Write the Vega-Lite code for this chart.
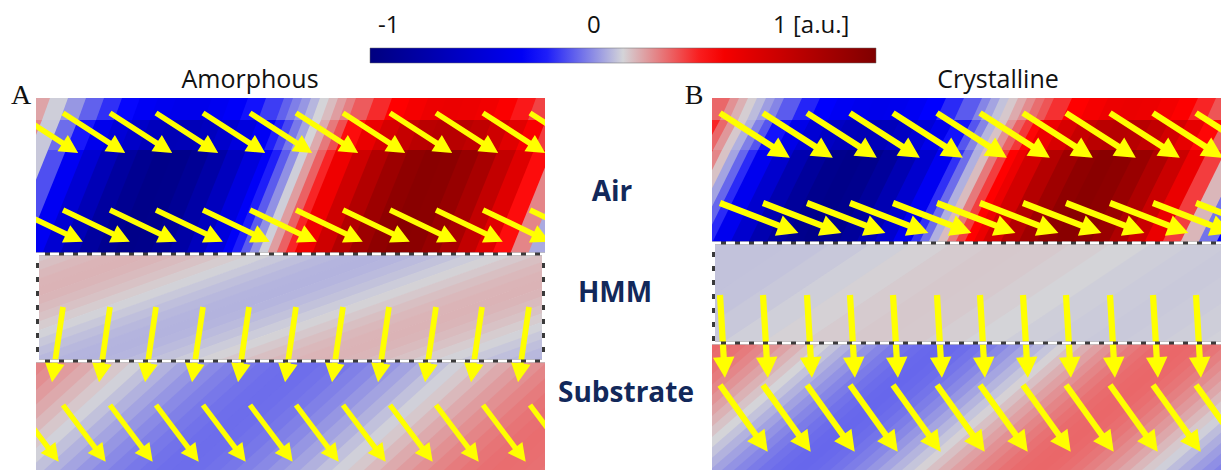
{
"$schema":"https://vega.github.io/schema/vega-lite/v6.json",
"width":1221,"height":470,"autosize":{"type":"none"},"padding":0,"background":"white",
"config":{"view":{"stroke":null}},
"datasets":{
"sa":[
{"g":"L1","y":254,"x":-12,"x2":8,"v":-0.02},{"g":"L1","y":150,"x":30,"x2":50,"v":-0.02},
{"g":"L2","y":254,"x":6,"x2":26,"v":-0.22},{"g":"L2","y":150,"x":48,"x2":68,"v":-0.22},
{"g":"L3","y":254,"x":24,"x2":44,"v":-0.41},{"g":"L3","y":150,"x":66,"x2":86,"v":-0.41},
{"g":"L4","y":254,"x":42,"x2":62,"v":-0.58},{"g":"L4","y":150,"x":84,"x2":104,"v":-0.58},
{"g":"L5","y":254,"x":60,"x2":80,"v":-0.72},{"g":"L5","y":150,"x":102,"x2":122,"v":-0.72},
{"g":"L6","y":254,"x":78,"x2":98,"v":-0.84},{"g":"L6","y":150,"x":120,"x2":140,"v":-0.84},
{"g":"L7","y":254,"x":96,"x2":116,"v":-0.91},{"g":"L7","y":150,"x":138,"x2":158,"v":-0.91},
{"g":"L8","y":254,"x":114,"x2":134,"v":-0.95},{"g":"L8","y":150,"x":156,"x2":176,"v":-0.95},
{"g":"L9","y":254,"x":132,"x2":152,"v":-0.94},{"g":"L9","y":150,"x":174,"x2":194,"v":-0.94},
{"g":"L10","y":254,"x":150,"x2":170,"v":-0.89},{"g":"L10","y":150,"x":192,"x2":212,"v":-0.89},
{"g":"L11","y":254,"x":168,"x2":188,"v":-0.8},{"g":"L11","y":150,"x":210,"x2":230,"v":-0.8},
{"g":"L12","y":254,"x":186,"x2":206,"v":-0.68},{"g":"L12","y":150,"x":228,"x2":248,"v":-0.68},
{"g":"L13","y":254,"x":204,"x2":224,"v":-0.53},{"g":"L13","y":150,"x":246,"x2":266,"v":-0.53},
{"g":"Lf0","y":254,"x":222,"x2":233,"v":-0.39},{"g":"Lf0","y":150,"x":264,"x2":275,"v":-0.39},
{"g":"Lf1","y":254,"x":231,"x2":242,"v":-0.3},{"g":"Lf1","y":150,"x":273,"x2":284,"v":-0.3},
{"g":"Lf2","y":254,"x":240,"x2":251,"v":-0.2},{"g":"Lf2","y":150,"x":282,"x2":293,"v":-0.2},
{"g":"Lf3","y":254,"x":249,"x2":260,"v":-0.11},{"g":"Lf3","y":150,"x":291,"x2":302,"v":-0.11},
{"g":"Lf4","y":254,"x":258,"x2":269,"v":-0.01},{"g":"Lf4","y":150,"x":300,"x2":311,"v":-0.01},
{"g":"Lf5","y":254,"x":267,"x2":278,"v":0.09},{"g":"Lf5","y":150,"x":309,"x2":320,"v":0.09},
{"g":"Lf6","y":254,"x":276,"x2":287,"v":0.19},{"g":"Lf6","y":150,"x":318,"x2":329,"v":0.19},
{"g":"Lf7","y":254,"x":285,"x2":296,"v":0.29},{"g":"Lf7","y":150,"x":327,"x2":338,"v":0.29},
{"g":"L18","y":254,"x":294,"x2":314,"v":0.43},{"g":"L18","y":150,"x":336,"x2":356,"v":0.43},
{"g":"L19","y":254,"x":312,"x2":332,"v":0.6},{"g":"L19","y":150,"x":354,"x2":374,"v":0.6},
{"g":"L20","y":254,"x":330,"x2":350,"v":0.74},{"g":"L20","y":150,"x":372,"x2":392,"v":0.74},
{"g":"L21","y":254,"x":348,"x2":368,"v":0.85},{"g":"L21","y":150,"x":390,"x2":410,"v":0.85},
{"g":"L22","y":254,"x":366,"x2":386,"v":0.92},{"g":"L22","y":150,"x":408,"x2":428,"v":0.92},
{"g":"L23","y":254,"x":384,"x2":404,"v":0.95},{"g":"L23","y":150,"x":426,"x2":446,"v":0.95},
{"g":"L24","y":254,"x":402,"x2":422,"v":0.94},{"g":"L24","y":150,"x":444,"x2":464,"v":0.94},
{"g":"L25","y":254,"x":420,"x2":440,"v":0.88},{"g":"L25","y":150,"x":462,"x2":482,"v":0.88},
{"g":"L26","y":254,"x":438,"x2":458,"v":0.79},{"g":"L26","y":150,"x":480,"x2":500,"v":0.79},
{"g":"L27","y":254,"x":456,"x2":476,"v":0.66},{"g":"L27","y":150,"x":498,"x2":518,"v":0.66},
{"g":"L28","y":254,"x":474,"x2":494,"v":0.51},{"g":"L28","y":150,"x":516,"x2":536,"v":0.51},
{"g":"L29","y":254,"x":492,"x2":512,"v":0.33},{"g":"L29","y":150,"x":534,"x2":554,"v":0.33},
{"g":"L30","y":254,"x":510,"x2":530,"v":0.13},{"g":"L30","y":150,"x":552,"x2":572,"v":0.13},
{"g":"L31","y":254,"x":528,"x2":548,"v":-0.07},{"g":"L31","y":150,"x":570,"x2":590,"v":-0.07},
{"g":"M0","y":150,"x":12,"x2":32,"v":0.13},{"g":"M0","y":120,"x":24,"x2":44,"v":0.13},
{"g":"M1","y":150,"x":30,"x2":50,"v":-0.02},{"g":"M1","y":120,"x":42,"x2":62,"v":-0.02},
{"g":"M2","y":150,"x":48,"x2":68,"v":-0.17},{"g":"M2","y":120,"x":60,"x2":80,"v":-0.17},
{"g":"M3","y":150,"x":66,"x2":86,"v":-0.31},{"g":"M3","y":120,"x":78,"x2":98,"v":-0.31},
{"g":"M4","y":150,"x":84,"x2":104,"v":-0.44},{"g":"M4","y":120,"x":96,"x2":116,"v":-0.44},
{"g":"M5","y":150,"x":102,"x2":122,"v":-0.55},{"g":"M5","y":120,"x":114,"x2":134,"v":-0.55},
{"g":"M6","y":150,"x":120,"x2":140,"v":-0.63},{"g":"M6","y":120,"x":132,"x2":152,"v":-0.63},
{"g":"M7","y":150,"x":138,"x2":158,"v":-0.69},{"g":"M7","y":120,"x":150,"x2":170,"v":-0.69},
{"g":"M8","y":150,"x":156,"x2":176,"v":-0.72},{"g":"M8","y":120,"x":168,"x2":188,"v":-0.72},
{"g":"M9","y":150,"x":174,"x2":194,"v":-0.71},{"g":"M9","y":120,"x":186,"x2":206,"v":-0.71},
{"g":"M10","y":150,"x":192,"x2":212,"v":-0.68},{"g":"M10","y":120,"x":204,"x2":224,"v":-0.68},
{"g":"M11","y":150,"x":210,"x2":230,"v":-0.61},{"g":"M11","y":120,"x":222,"x2":242,"v":-0.61},
{"g":"M12","y":150,"x":228,"x2":248,"v":-0.52},{"g":"M12","y":120,"x":240,"x2":260,"v":-0.52},
{"g":"M13","y":150,"x":246,"x2":266,"v":-0.4},{"g":"M13","y":120,"x":258,"x2":278,"v":-0.4},
{"g":"Mf0","y":150,"x":264,"x2":275,"v":-0.3},{"g":"Mf0","y":120,"x":276,"x2":287,"v":-0.3},
{"g":"Mf1","y":150,"x":273,"x2":284,"v":-0.23},{"g":"Mf1","y":120,"x":285,"x2":296,"v":-0.23},
{"g":"Mf2","y":150,"x":282,"x2":293,"v":-0.15},{"g":"Mf2","y":120,"x":294,"x2":305,"v":-0.15},
{"g":"Mf3","y":150,"x":291,"x2":302,"v":-0.08},{"g":"Mf3","y":120,"x":303,"x2":314,"v":-0.08},
{"g":"Mf4","y":150,"x":300,"x2":311,"v":0},{"g":"Mf4","y":120,"x":312,"x2":323,"v":0},
{"g":"Mf5","y":150,"x":309,"x2":320,"v":0.07},{"g":"Mf5","y":120,"x":321,"x2":332,"v":0.07},
{"g":"Mf6","y":150,"x":318,"x2":329,"v":0.15},{"g":"Mf6","y":120,"x":330,"x2":341,"v":0.15},
{"g":"Mf7","y":150,"x":327,"x2":338,"v":0.22},{"g":"Mf7","y":120,"x":339,"x2":350,"v":0.22},
{"g":"M18","y":150,"x":336,"x2":356,"v":0.33},{"g":"M18","y":120,"x":348,"x2":368,"v":0.33},
{"g":"M19","y":150,"x":354,"x2":374,"v":0.45},{"g":"M19","y":120,"x":366,"x2":386,"v":0.45},
{"g":"M20","y":150,"x":372,"x2":392,"v":0.56},{"g":"M20","y":120,"x":384,"x2":404,"v":0.56},
{"g":"M21","y":150,"x":390,"x2":410,"v":0.64},{"g":"M21","y":120,"x":402,"x2":422,"v":0.64},
{"g":"M22","y":150,"x":408,"x2":428,"v":0.7},{"g":"M22","y":120,"x":420,"x2":440,"v":0.7},
{"g":"M23","y":150,"x":426,"x2":446,"v":0.72},{"g":"M23","y":120,"x":438,"x2":458,"v":0.72},
{"g":"M24","y":150,"x":444,"x2":464,"v":0.71},{"g":"M24","y":120,"x":456,"x2":476,"v":0.71},
{"g":"M25","y":150,"x":462,"x2":482,"v":0.67},{"g":"M25","y":120,"x":474,"x2":494,"v":0.67},
{"g":"M26","y":150,"x":480,"x2":500,"v":0.6},{"g":"M26","y":120,"x":492,"x2":512,"v":0.6},
{"g":"M27","y":150,"x":498,"x2":518,"v":0.5},{"g":"M27","y":120,"x":510,"x2":530,"v":0.5},
{"g":"M28","y":150,"x":516,"x2":536,"v":0.38},{"g":"M28","y":120,"x":528,"x2":548,"v":0.38},
{"g":"M29","y":150,"x":534,"x2":554,"v":0.25},{"g":"M29","y":120,"x":546,"x2":566,"v":0.25},
{"g":"T0","y":120,"x":24,"x2":44,"v":0.08},{"g":"T0","y":98,"x":32,"x2":52,"v":0.08},
{"g":"T1","y":120,"x":42,"x2":62,"v":-0.01},{"g":"T1","y":98,"x":50,"x2":70,"v":-0.01},
{"g":"T2","y":120,"x":60,"x2":80,"v":-0.1},{"g":"T2","y":98,"x":68,"x2":88,"v":-0.1},
{"g":"T3","y":120,"x":78,"x2":98,"v":-0.19},{"g":"T3","y":98,"x":86,"x2":106,"v":-0.19},
{"g":"T4","y":120,"x":96,"x2":116,"v":-0.27},{"g":"T4","y":98,"x":104,"x2":124,"v":-0.27},
{"g":"T5","y":120,"x":114,"x2":134,"v":-0.34},{"g":"T5","y":98,"x":122,"x2":142,"v":-0.34},
{"g":"T6","y":120,"x":132,"x2":152,"v":-0.4},{"g":"T6","y":98,"x":140,"x2":160,"v":-0.4},
{"g":"T7","y":120,"x":150,"x2":170,"v":-0.43},{"g":"T7","y":98,"x":158,"x2":178,"v":-0.43},
{"g":"T8","y":120,"x":168,"x2":188,"v":-0.45},{"g":"T8","y":98,"x":176,"x2":196,"v":-0.45},
{"g":"T9","y":120,"x":186,"x2":206,"v":-0.45},{"g":"T9","y":98,"x":194,"x2":214,"v":-0.45},
{"g":"T10","y":120,"x":204,"x2":224,"v":-0.42},{"g":"T10","y":98,"x":212,"x2":232,"v":-0.42},
{"g":"T11","y":120,"x":222,"x2":242,"v":-0.38},{"g":"T11","y":98,"x":230,"x2":250,"v":-0.38},
{"g":"T12","y":120,"x":240,"x2":260,"v":-0.32},{"g":"T12","y":98,"x":248,"x2":268,"v":-0.32},
{"g":"T13","y":120,"x":258,"x2":278,"v":-0.25},{"g":"T13","y":98,"x":266,"x2":286,"v":-0.25},
{"g":"Tf0","y":120,"x":276,"x2":287,"v":-0.19},{"g":"Tf0","y":98,"x":284,"x2":295,"v":-0.19},
{"g":"Tf1","y":120,"x":285,"x2":296,"v":-0.14},{"g":"Tf1","y":98,"x":293,"x2":304,"v":-0.14},
{"g":"Tf2","y":120,"x":294,"x2":305,"v":-0.1},{"g":"Tf2","y":98,"x":302,"x2":313,"v":-0.1},
{"g":"Tf3","y":120,"x":303,"x2":314,"v":-0.05},{"g":"Tf3","y":98,"x":311,"x2":322,"v":-0.05},
{"g":"Tf4","y":120,"x":312,"x2":323,"v":0},{"g":"Tf4","y":98,"x":320,"x2":331,"v":0},
{"g":"Tf5","y":120,"x":321,"x2":332,"v":0.04},{"g":"Tf5","y":98,"x":329,"x2":340,"v":0.04},
{"g":"Tf6","y":120,"x":330,"x2":341,"v":0.09},{"g":"Tf6","y":98,"x":338,"x2":349,"v":0.09},
{"g":"Tf7","y":120,"x":339,"x2":350,"v":0.14},{"g":"Tf7","y":98,"x":347,"x2":358,"v":0.14},
{"g":"T18","y":120,"x":348,"x2":368,"v":0.2},{"g":"T18","y":98,"x":356,"x2":376,"v":0.2},
{"g":"T19","y":120,"x":366,"x2":386,"v":0.28},{"g":"T19","y":98,"x":374,"x2":394,"v":0.28},
{"g":"T20","y":120,"x":384,"x2":404,"v":0.35},{"g":"T20","y":98,"x":392,"x2":412,"v":0.35},
{"g":"T21","y":120,"x":402,"x2":422,"v":0.4},{"g":"T21","y":98,"x":410,"x2":430,"v":0.4},
{"g":"T22","y":120,"x":420,"x2":440,"v":0.44},{"g":"T22","y":98,"x":428,"x2":448,"v":0.44},
{"g":"T23","y":120,"x":438,"x2":458,"v":0.45},{"g":"T23","y":98,"x":446,"x2":466,"v":0.45},
{"g":"T24","y":120,"x":456,"x2":476,"v":0.44},{"g":"T24","y":98,"x":464,"x2":484,"v":0.44},
{"g":"T25","y":120,"x":474,"x2":494,"v":0.42},{"g":"T25","y":98,"x":482,"x2":502,"v":0.42},
{"g":"T26","y":120,"x":492,"x2":512,"v":0.37},{"g":"T26","y":98,"x":500,"x2":520,"v":0.37},
{"g":"T27","y":120,"x":510,"x2":530,"v":0.31},{"g":"T27","y":98,"x":518,"x2":538,"v":0.31},
{"g":"T28","y":120,"x":528,"x2":548,"v":0.24},{"g":"T28","y":98,"x":536,"x2":556,"v":0.24},
{"g":"H0","y":361,"x":-264,"x2":-238,"v":0.019},{"g":"H0","y":254,"x":36,"x2":62,"v":0.019},
{"g":"H1","y":361,"x":-240,"x2":-214,"v":0.035},{"g":"H1","y":254,"x":60,"x2":86,"v":0.035},
{"g":"H2","y":361,"x":-216,"x2":-190,"v":0.047},{"g":"H2","y":254,"x":84,"x2":110,"v":0.047},
{"g":"H3","y":361,"x":-192,"x2":-166,"v":0.053},{"g":"H3","y":254,"x":108,"x2":134,"v":0.053},
{"g":"H4","y":361,"x":-168,"x2":-142,"v":0.055},{"g":"H4","y":254,"x":132,"x2":158,"v":0.055},
{"g":"H5","y":361,"x":-144,"x2":-118,"v":0.052},{"g":"H5","y":254,"x":156,"x2":182,"v":0.052},
{"g":"H6","y":361,"x":-120,"x2":-94,"v":0.042},{"g":"H6","y":254,"x":180,"x2":206,"v":0.042},
{"g":"H7","y":361,"x":-96,"x2":-70,"v":0.03},{"g":"H7","y":254,"x":204,"x2":230,"v":0.03},
{"g":"H8","y":361,"x":-72,"x2":-46,"v":0.014},{"g":"H8","y":254,"x":228,"x2":254,"v":0.014},
{"g":"H9","y":361,"x":-48,"x2":-22,"v":-0.003},{"g":"H9","y":254,"x":252,"x2":278,"v":-0.003},
{"g":"H10","y":361,"x":-24,"x2":2,"v":-0.019},{"g":"H10","y":254,"x":276,"x2":302,"v":-0.019},
{"g":"H11","y":361,"x":0,"x2":26,"v":-0.035},{"g":"H11","y":254,"x":300,"x2":326,"v":-0.035},
{"g":"H12","y":361,"x":24,"x2":50,"v":-0.047},{"g":"H12","y":254,"x":324,"x2":350,"v":-0.047},
{"g":"H13","y":361,"x":48,"x2":74,"v":-0.053},{"g":"H13","y":254,"x":348,"x2":374,"v":-0.053},
{"g":"H14","y":361,"x":72,"x2":98,"v":-0.055},{"g":"H14","y":254,"x":372,"x2":398,"v":-0.055},
{"g":"H15","y":361,"x":96,"x2":122,"v":-0.052},{"g":"H15","y":254,"x":396,"x2":422,"v":-0.052},
{"g":"H16","y":361,"x":120,"x2":146,"v":-0.042},{"g":"H16","y":254,"x":420,"x2":446,"v":-0.042},
{"g":"H17","y":361,"x":144,"x2":170,"v":-0.03},{"g":"H17","y":254,"x":444,"x2":470,"v":-0.03},
{"g":"H18","y":361,"x":168,"x2":194,"v":-0.014},{"g":"H18","y":254,"x":468,"x2":494,"v":-0.014},
{"g":"H19","y":361,"x":192,"x2":218,"v":0.003},{"g":"H19","y":254,"x":492,"x2":518,"v":0.003},
{"g":"H20","y":361,"x":216,"x2":242,"v":0.019},{"g":"H20","y":254,"x":516,"x2":542,"v":0.019},
{"g":"H21","y":361,"x":240,"x2":266,"v":0.035},{"g":"H21","y":254,"x":540,"x2":566,"v":0.035},
{"g":"H22","y":361,"x":264,"x2":290,"v":0.047},{"g":"H22","y":254,"x":564,"x2":590,"v":0.047},
{"g":"H23","y":361,"x":288,"x2":314,"v":0.053},{"g":"H23","y":254,"x":588,"x2":614,"v":0.053},
{"g":"H24","y":361,"x":312,"x2":338,"v":0.055},{"g":"H24","y":254,"x":612,"x2":638,"v":0.055},
{"g":"H25","y":361,"x":336,"x2":362,"v":0.052},{"g":"H25","y":254,"x":636,"x2":662,"v":0.052},
{"g":"H26","y":361,"x":360,"x2":386,"v":0.042},{"g":"H26","y":254,"x":660,"x2":686,"v":0.042},
{"g":"H27","y":361,"x":384,"x2":410,"v":0.03},{"g":"H27","y":254,"x":684,"x2":710,"v":0.03},
{"g":"H28","y":361,"x":408,"x2":434,"v":0.014},{"g":"H28","y":254,"x":708,"x2":734,"v":0.014},
{"g":"H29","y":361,"x":432,"x2":458,"v":-0.003},{"g":"H29","y":254,"x":732,"x2":758,"v":-0.003},
{"g":"H30","y":361,"x":456,"x2":482,"v":-0.019},{"g":"H30","y":254,"x":756,"x2":782,"v":-0.019},
{"g":"H31","y":361,"x":480,"x2":506,"v":-0.035},{"g":"H31","y":254,"x":780,"x2":806,"v":-0.035},
{"g":"H32","y":361,"x":504,"x2":530,"v":-0.047},{"g":"H32","y":254,"x":804,"x2":830,"v":-0.047},
{"g":"H33","y":361,"x":528,"x2":554,"v":-0.053},{"g":"H33","y":254,"x":828,"x2":854,"v":-0.053},
{"g":"S0","y":470,"x":-84,"x2":-66,"v":0.132},{"g":"S0","y":361,"x":36,"x2":54,"v":0.132},
{"g":"S1","y":470,"x":-68,"x2":-50,"v":0.115},{"g":"S1","y":361,"x":52,"x2":70,"v":0.115},
{"g":"S2","y":470,"x":-52,"x2":-34,"v":0.094},{"g":"S2","y":361,"x":68,"x2":86,"v":0.094},
{"g":"S3","y":470,"x":-36,"x2":-18,"v":0.071},{"g":"S3","y":361,"x":84,"x2":102,"v":0.071},
{"g":"S4","y":470,"x":-20,"x2":-2,"v":0.047},{"g":"S4","y":361,"x":100,"x2":118,"v":0.047},
{"g":"S5","y":470,"x":-4,"x2":14,"v":0.021},{"g":"S5","y":361,"x":116,"x2":134,"v":0.021},
{"g":"S6","y":470,"x":12,"x2":30,"v":-0.005},{"g":"S6","y":361,"x":132,"x2":150,"v":-0.005},
{"g":"S7","y":470,"x":28,"x2":46,"v":-0.031},{"g":"S7","y":361,"x":148,"x2":166,"v":-0.031},
{"g":"S8","y":470,"x":44,"x2":62,"v":-0.056},{"g":"S8","y":361,"x":164,"x2":182,"v":-0.056},
{"g":"S9","y":470,"x":60,"x2":78,"v":-0.08},{"g":"S9","y":361,"x":180,"x2":198,"v":-0.08},
{"g":"S10","y":470,"x":76,"x2":94,"v":-0.102},{"g":"S10","y":361,"x":196,"x2":214,"v":-0.102},
{"g":"S11","y":470,"x":92,"x2":110,"v":-0.122},{"g":"S11","y":361,"x":212,"x2":230,"v":-0.122},
{"g":"S12","y":470,"x":108,"x2":126,"v":-0.138},{"g":"S12","y":361,"x":228,"x2":246,"v":-0.138},
{"g":"S13","y":470,"x":124,"x2":142,"v":-0.152},{"g":"S13","y":361,"x":244,"x2":262,"v":-0.152},
{"g":"S14","y":470,"x":140,"x2":158,"v":-0.162},{"g":"S14","y":361,"x":260,"x2":278,"v":-0.162},
{"g":"S15","y":470,"x":156,"x2":174,"v":-0.168},{"g":"S15","y":361,"x":276,"x2":294,"v":-0.168},
{"g":"S16","y":470,"x":172,"x2":190,"v":-0.17},{"g":"S16","y":361,"x":292,"x2":310,"v":-0.17},
{"g":"S17","y":470,"x":188,"x2":206,"v":-0.168},{"g":"S17","y":361,"x":308,"x2":326,"v":-0.168},
{"g":"S18","y":470,"x":204,"x2":222,"v":-0.162},{"g":"S18","y":361,"x":324,"x2":342,"v":-0.162},
{"g":"S19","y":470,"x":220,"x2":238,"v":-0.153},{"g":"S19","y":361,"x":340,"x2":358,"v":-0.153},
{"g":"S20","y":470,"x":236,"x2":254,"v":-0.139},{"g":"S20","y":361,"x":356,"x2":374,"v":-0.139},
{"g":"S21","y":470,"x":252,"x2":270,"v":-0.123},{"g":"S21","y":361,"x":372,"x2":390,"v":-0.123},
{"g":"S22","y":470,"x":268,"x2":286,"v":-0.103},{"g":"S22","y":361,"x":388,"x2":406,"v":-0.103},
{"g":"S23","y":470,"x":284,"x2":302,"v":-0.081},{"g":"S23","y":361,"x":404,"x2":422,"v":-0.081},
{"g":"S24","y":470,"x":300,"x2":318,"v":-0.058},{"g":"S24","y":361,"x":420,"x2":438,"v":-0.058},
{"g":"S25","y":470,"x":316,"x2":334,"v":-0.032},{"g":"S25","y":361,"x":436,"x2":454,"v":-0.032},
{"g":"S26","y":470,"x":332,"x2":350,"v":-0.007},{"g":"S26","y":361,"x":452,"x2":470,"v":-0.007},
{"g":"S27","y":470,"x":348,"x2":366,"v":0.02},{"g":"S27","y":361,"x":468,"x2":486,"v":0.02},
{"g":"S28","y":470,"x":364,"x2":382,"v":0.045},{"g":"S28","y":361,"x":484,"x2":502,"v":0.045},
{"g":"S29","y":470,"x":380,"x2":398,"v":0.07},{"g":"S29","y":361,"x":500,"x2":518,"v":0.07},
{"g":"S30","y":470,"x":396,"x2":414,"v":0.093},{"g":"S30","y":361,"x":516,"x2":534,"v":0.093},
{"g":"S31","y":470,"x":412,"x2":430,"v":0.113},{"g":"S31","y":361,"x":532,"x2":550,"v":0.113},
{"g":"S32","y":470,"x":428,"x2":446,"v":0.131},{"g":"S32","y":361,"x":548,"x2":566,"v":0.131},
{"g":"S33","y":470,"x":444,"x2":462,"v":0.147},{"g":"S33","y":361,"x":564,"x2":582,"v":0.147},
{"g":"S34","y":470,"x":460,"x2":478,"v":0.158},{"g":"S34","y":361,"x":580,"x2":598,"v":0.158},
{"g":"S35","y":470,"x":476,"x2":494,"v":0.166},{"g":"S35","y":361,"x":596,"x2":614,"v":0.166},
{"g":"S36","y":470,"x":492,"x2":510,"v":0.17},{"g":"S36","y":361,"x":612,"x2":630,"v":0.17},
{"g":"S37","y":470,"x":508,"x2":526,"v":0.169},{"g":"S37","y":361,"x":628,"x2":646,"v":0.169},
{"g":"S38","y":470,"x":524,"x2":542,"v":0.165},{"g":"S38","y":361,"x":644,"x2":662,"v":0.165},
{"g":"S39","y":470,"x":540,"x2":558,"v":0.157},{"g":"S39","y":361,"x":660,"x2":678,"v":0.157}
],
"sb":[
{"g":"lf0","y":243,"x":658,"x2":669,"v":0.24},{"g":"lf0","y":150,"x":704,"x2":715,"v":0.24},
{"g":"lf1","y":243,"x":667,"x2":678,"v":0.13},{"g":"lf1","y":150,"x":713,"x2":724,"v":0.13},
{"g":"lf2","y":243,"x":676,"x2":687,"v":0.03},{"g":"lf2","y":150,"x":722,"x2":733,"v":0.03},
{"g":"lf3","y":243,"x":685,"x2":696,"v":-0.08},{"g":"lf3","y":150,"x":731,"x2":742,"v":-0.08},
{"g":"lf4","y":243,"x":694,"x2":705,"v":-0.18},{"g":"lf4","y":150,"x":740,"x2":751,"v":-0.18},
{"g":"lf5","y":243,"x":703,"x2":714,"v":-0.28},{"g":"lf5","y":150,"x":749,"x2":760,"v":-0.28},
{"g":"l4","y":243,"x":712,"x2":732,"v":-0.43},{"g":"l4","y":150,"x":758,"x2":778,"v":-0.43},
{"g":"l5","y":243,"x":730,"x2":750,"v":-0.6},{"g":"l5","y":150,"x":776,"x2":796,"v":-0.6},
{"g":"l6","y":243,"x":748,"x2":768,"v":-0.75},{"g":"l6","y":150,"x":794,"x2":814,"v":-0.75},
{"g":"l7","y":243,"x":766,"x2":786,"v":-0.86},{"g":"l7","y":150,"x":812,"x2":832,"v":-0.86},
{"g":"l8","y":243,"x":784,"x2":804,"v":-0.93},{"g":"l8","y":150,"x":830,"x2":850,"v":-0.93},
{"g":"l9","y":243,"x":802,"x2":822,"v":-0.95},{"g":"l9","y":150,"x":848,"x2":868,"v":-0.95},
{"g":"l10","y":243,"x":820,"x2":840,"v":-0.93},{"g":"l10","y":150,"x":866,"x2":886,"v":-0.93},
{"g":"l11","y":243,"x":838,"x2":858,"v":-0.86},{"g":"l11","y":150,"x":884,"x2":904,"v":-0.86},
{"g":"l12","y":243,"x":856,"x2":876,"v":-0.74},{"g":"l12","y":150,"x":902,"x2":922,"v":-0.74},
{"g":"l13","y":243,"x":874,"x2":894,"v":-0.6},{"g":"l13","y":150,"x":920,"x2":940,"v":-0.6},
{"g":"l14","y":243,"x":892,"x2":912,"v":-0.42},{"g":"l14","y":150,"x":938,"x2":958,"v":-0.42},
{"g":"lg0","y":243,"x":910,"x2":921,"v":-0.27},{"g":"lg0","y":150,"x":956,"x2":967,"v":-0.27},
{"g":"lg1","y":243,"x":919,"x2":930,"v":-0.17},{"g":"lg1","y":150,"x":965,"x2":976,"v":-0.17},
{"g":"lg2","y":243,"x":928,"x2":939,"v":-0.06},{"g":"lg2","y":150,"x":974,"x2":985,"v":-0.06},
{"g":"lg3","y":243,"x":937,"x2":948,"v":0.04},{"g":"lg3","y":150,"x":983,"x2":994,"v":0.04},
{"g":"lg4","y":243,"x":946,"x2":957,"v":0.15},{"g":"lg4","y":150,"x":992,"x2":1003,"v":0.15},
{"g":"lg5","y":243,"x":955,"x2":966,"v":0.25},{"g":"lg5","y":150,"x":1001,"x2":1012,"v":0.25},
{"g":"lg6","y":243,"x":964,"x2":975,"v":0.35},{"g":"lg6","y":150,"x":1010,"x2":1021,"v":0.35},
{"g":"lg7","y":243,"x":973,"x2":984,"v":0.44},{"g":"lg7","y":150,"x":1019,"x2":1030,"v":0.44},
{"g":"l19","y":243,"x":982,"x2":1002,"v":0.58},{"g":"l19","y":150,"x":1028,"x2":1048,"v":0.58},
{"g":"l20","y":243,"x":1000,"x2":1020,"v":0.73},{"g":"l20","y":150,"x":1046,"x2":1066,"v":0.73},
{"g":"l21","y":243,"x":1018,"x2":1038,"v":0.84},{"g":"l21","y":150,"x":1064,"x2":1084,"v":0.84},
{"g":"l22","y":243,"x":1036,"x2":1056,"v":0.92},{"g":"l22","y":150,"x":1082,"x2":1102,"v":0.92},
{"g":"l23","y":243,"x":1054,"x2":1074,"v":0.95},{"g":"l23","y":150,"x":1100,"x2":1120,"v":0.95},
{"g":"l24","y":243,"x":1072,"x2":1092,"v":0.93},{"g":"l24","y":150,"x":1118,"x2":1138,"v":0.93},
{"g":"l25","y":243,"x":1090,"x2":1110,"v":0.87},{"g":"l25","y":150,"x":1136,"x2":1156,"v":0.87},
{"g":"l26","y":243,"x":1108,"x2":1128,"v":0.76},{"g":"l26","y":150,"x":1154,"x2":1174,"v":0.76},
{"g":"l27","y":243,"x":1126,"x2":1146,"v":0.62},{"g":"l27","y":150,"x":1172,"x2":1192,"v":0.62},
{"g":"l28","y":243,"x":1144,"x2":1164,"v":0.45},{"g":"l28","y":150,"x":1190,"x2":1210,"v":0.45},
{"g":"l29","y":243,"x":1162,"x2":1182,"v":0.25},{"g":"l29","y":150,"x":1208,"x2":1228,"v":0.25},
{"g":"l30","y":243,"x":1180,"x2":1200,"v":0.05},{"g":"l30","y":150,"x":1226,"x2":1246,"v":0.05},
{"g":"l31","y":243,"x":1198,"x2":1218,"v":-0.16},{"g":"l31","y":150,"x":1244,"x2":1264,"v":-0.16},
{"g":"l32","y":243,"x":1216,"x2":1236,"v":-0.36},{"g":"l32","y":150,"x":1262,"x2":1282,"v":-0.36},
{"g":"m0","y":150,"x":686,"x2":706,"v":0.29},{"g":"m0","y":120,"x":702,"x2":722,"v":0.29},
{"g":"mf0","y":150,"x":704,"x2":715,"v":0.18},{"g":"mf0","y":120,"x":720,"x2":731,"v":0.18},
{"g":"mf1","y":150,"x":713,"x2":724,"v":0.1},{"g":"mf1","y":120,"x":729,"x2":740,"v":0.1},
{"g":"mf2","y":150,"x":722,"x2":733,"v":0.02},{"g":"mf2","y":120,"x":738,"x2":749,"v":0.02},
{"g":"mf3","y":150,"x":731,"x2":742,"v":-0.06},{"g":"mf3","y":120,"x":747,"x2":758,"v":-0.06},
{"g":"mf4","y":150,"x":740,"x2":751,"v":-0.14},{"g":"mf4","y":120,"x":756,"x2":767,"v":-0.14},
{"g":"mf5","y":150,"x":749,"x2":760,"v":-0.21},{"g":"mf5","y":120,"x":765,"x2":776,"v":-0.21},
{"g":"m4","y":150,"x":758,"x2":778,"v":-0.32},{"g":"m4","y":120,"x":774,"x2":794,"v":-0.32},
{"g":"m5","y":150,"x":776,"x2":796,"v":-0.46},{"g":"m5","y":120,"x":792,"x2":812,"v":-0.46},
{"g":"m6","y":150,"x":794,"x2":814,"v":-0.57},{"g":"m6","y":120,"x":810,"x2":830,"v":-0.57},
{"g":"m7","y":150,"x":812,"x2":832,"v":-0.65},{"g":"m7","y":120,"x":828,"x2":848,"v":-0.65},
{"g":"m8","y":150,"x":830,"x2":850,"v":-0.7},{"g":"m8","y":120,"x":846,"x2":866,"v":-0.7},
{"g":"m9","y":150,"x":848,"x2":868,"v":-0.72},{"g":"m9","y":120,"x":864,"x2":884,"v":-0.72},
{"g":"m10","y":150,"x":866,"x2":886,"v":-0.7},{"g":"m10","y":120,"x":882,"x2":902,"v":-0.7},
{"g":"m11","y":150,"x":884,"x2":904,"v":-0.65},{"g":"m11","y":120,"x":900,"x2":920,"v":-0.65},
{"g":"m12","y":150,"x":902,"x2":922,"v":-0.56},{"g":"m12","y":120,"x":918,"x2":938,"v":-0.56},
{"g":"m13","y":150,"x":920,"x2":940,"v":-0.45},{"g":"m13","y":120,"x":936,"x2":956,"v":-0.45},
{"g":"m14","y":150,"x":938,"x2":958,"v":-0.32},{"g":"m14","y":120,"x":954,"x2":974,"v":-0.32},
{"g":"mg0","y":150,"x":956,"x2":967,"v":-0.21},{"g":"mg0","y":120,"x":972,"x2":983,"v":-0.21},
{"g":"mg1","y":150,"x":965,"x2":976,"v":-0.13},{"g":"mg1","y":120,"x":981,"x2":992,"v":-0.13},
{"g":"mg2","y":150,"x":974,"x2":985,"v":-0.05},{"g":"mg2","y":120,"x":990,"x2":1001,"v":-0.05},
{"g":"mg3","y":150,"x":983,"x2":994,"v":0.03},{"g":"mg3","y":120,"x":999,"x2":1010,"v":0.03},
{"g":"mg4","y":150,"x":992,"x2":1003,"v":0.11},{"g":"mg4","y":120,"x":1008,"x2":1019,"v":0.11},
{"g":"mg5","y":150,"x":1001,"x2":1012,"v":0.19},{"g":"mg5","y":120,"x":1017,"x2":1028,"v":0.19},
{"g":"mg6","y":150,"x":1010,"x2":1021,"v":0.26},{"g":"mg6","y":120,"x":1026,"x2":1037,"v":0.26},
{"g":"mg7","y":150,"x":1019,"x2":1030,"v":0.34},{"g":"mg7","y":120,"x":1035,"x2":1046,"v":0.34},
{"g":"m19","y":150,"x":1028,"x2":1048,"v":0.44},{"g":"m19","y":120,"x":1044,"x2":1064,"v":0.44},
{"g":"m20","y":150,"x":1046,"x2":1066,"v":0.55},{"g":"m20","y":120,"x":1062,"x2":1082,"v":0.55},
{"g":"m21","y":150,"x":1064,"x2":1084,"v":0.64},{"g":"m21","y":120,"x":1080,"x2":1100,"v":0.64},
{"g":"m22","y":150,"x":1082,"x2":1102,"v":0.7},{"g":"m22","y":120,"x":1098,"x2":1118,"v":0.7},
{"g":"m23","y":150,"x":1100,"x2":1120,"v":0.72},{"g":"m23","y":120,"x":1116,"x2":1136,"v":0.72},
{"g":"m24","y":150,"x":1118,"x2":1138,"v":0.71},{"g":"m24","y":120,"x":1134,"x2":1154,"v":0.71},
{"g":"m25","y":150,"x":1136,"x2":1156,"v":0.66},{"g":"m25","y":120,"x":1152,"x2":1172,"v":0.66},
{"g":"m26","y":150,"x":1154,"x2":1174,"v":0.58},{"g":"m26","y":120,"x":1170,"x2":1190,"v":0.58},
{"g":"m27","y":150,"x":1172,"x2":1192,"v":0.47},{"g":"m27","y":120,"x":1188,"x2":1208,"v":0.47},
{"g":"m28","y":150,"x":1190,"x2":1210,"v":0.34},{"g":"m28","y":120,"x":1206,"x2":1226,"v":0.34},
{"g":"m29","y":150,"x":1208,"x2":1228,"v":0.19},{"g":"m29","y":120,"x":1224,"x2":1244,"v":0.19},
{"g":"t0","y":120,"x":702,"x2":722,"v":0.18},{"g":"t0","y":98,"x":712,"x2":732,"v":0.18},
{"g":"tf0","y":120,"x":720,"x2":731,"v":0.11},{"g":"tf0","y":98,"x":730,"x2":741,"v":0.11},
{"g":"tf1","y":120,"x":729,"x2":740,"v":0.06},{"g":"tf1","y":98,"x":739,"x2":750,"v":0.06},
{"g":"tf2","y":120,"x":738,"x2":749,"v":0.01},{"g":"tf2","y":98,"x":748,"x2":759,"v":0.01},
{"g":"tf3","y":120,"x":747,"x2":758,"v":-0.04},{"g":"tf3","y":98,"x":757,"x2":768,"v":-0.04},
{"g":"tf4","y":120,"x":756,"x2":767,"v":-0.09},{"g":"tf4","y":98,"x":766,"x2":777,"v":-0.09},
{"g":"tf5","y":120,"x":765,"x2":776,"v":-0.13},{"g":"tf5","y":98,"x":775,"x2":786,"v":-0.13},
{"g":"t4","y":120,"x":774,"x2":794,"v":-0.2},{"g":"t4","y":98,"x":784,"x2":804,"v":-0.2},
{"g":"t5","y":120,"x":792,"x2":812,"v":-0.29},{"g":"t5","y":98,"x":802,"x2":822,"v":-0.29},
{"g":"t6","y":120,"x":810,"x2":830,"v":-0.36},{"g":"t6","y":98,"x":820,"x2":840,"v":-0.36},
{"g":"t7","y":120,"x":828,"x2":848,"v":-0.41},{"g":"t7","y":98,"x":838,"x2":858,"v":-0.41},
{"g":"t8","y":120,"x":846,"x2":866,"v":-0.44},{"g":"t8","y":98,"x":856,"x2":876,"v":-0.44},
{"g":"t9","y":120,"x":864,"x2":884,"v":-0.45},{"g":"t9","y":98,"x":874,"x2":894,"v":-0.45},
{"g":"t10","y":120,"x":882,"x2":902,"v":-0.44},{"g":"t10","y":98,"x":892,"x2":912,"v":-0.44},
{"g":"t11","y":120,"x":900,"x2":920,"v":-0.41},{"g":"t11","y":98,"x":910,"x2":930,"v":-0.41},
{"g":"t12","y":120,"x":918,"x2":938,"v":-0.35},{"g":"t12","y":98,"x":928,"x2":948,"v":-0.35},
{"g":"t13","y":120,"x":936,"x2":956,"v":-0.28},{"g":"t13","y":98,"x":946,"x2":966,"v":-0.28},
{"g":"t14","y":120,"x":954,"x2":974,"v":-0.2},{"g":"t14","y":98,"x":964,"x2":984,"v":-0.2},
{"g":"tg0","y":120,"x":972,"x2":983,"v":-0.13},{"g":"tg0","y":98,"x":982,"x2":993,"v":-0.13},
{"g":"tg1","y":120,"x":981,"x2":992,"v":-0.08},{"g":"tg1","y":98,"x":991,"x2":1002,"v":-0.08},
{"g":"tg2","y":120,"x":990,"x2":1001,"v":-0.03},{"g":"tg2","y":98,"x":1000,"x2":1011,"v":-0.03},
{"g":"tg3","y":120,"x":999,"x2":1010,"v":0.02},{"g":"tg3","y":98,"x":1009,"x2":1020,"v":0.02},
{"g":"tg4","y":120,"x":1008,"x2":1019,"v":0.07},{"g":"tg4","y":98,"x":1018,"x2":1029,"v":0.07},
{"g":"tg5","y":120,"x":1017,"x2":1028,"v":0.12},{"g":"tg5","y":98,"x":1027,"x2":1038,"v":0.12},
{"g":"tg6","y":120,"x":1026,"x2":1037,"v":0.17},{"g":"tg6","y":98,"x":1036,"x2":1047,"v":0.17},
{"g":"tg7","y":120,"x":1035,"x2":1046,"v":0.21},{"g":"tg7","y":98,"x":1045,"x2":1056,"v":0.21},
{"g":"t19","y":120,"x":1044,"x2":1064,"v":0.27},{"g":"t19","y":98,"x":1054,"x2":1074,"v":0.27},
{"g":"t20","y":120,"x":1062,"x2":1082,"v":0.35},{"g":"t20","y":98,"x":1072,"x2":1092,"v":0.35},
{"g":"t21","y":120,"x":1080,"x2":1100,"v":0.4},{"g":"t21","y":98,"x":1090,"x2":1110,"v":0.4},
{"g":"t22","y":120,"x":1098,"x2":1118,"v":0.44},{"g":"t22","y":98,"x":1108,"x2":1128,"v":0.44},
{"g":"t23","y":120,"x":1116,"x2":1136,"v":0.45},{"g":"t23","y":98,"x":1126,"x2":1146,"v":0.45},
{"g":"t24","y":120,"x":1134,"x2":1154,"v":0.44},{"g":"t24","y":98,"x":1144,"x2":1164,"v":0.44},
{"g":"t25","y":120,"x":1152,"x2":1172,"v":0.41},{"g":"t25","y":98,"x":1162,"x2":1182,"v":0.41},
{"g":"t26","y":120,"x":1170,"x2":1190,"v":0.36},{"g":"t26","y":98,"x":1180,"x2":1200,"v":0.36},
{"g":"t27","y":120,"x":1188,"x2":1208,"v":0.29},{"g":"t27","y":98,"x":1198,"x2":1218,"v":0.29},
{"g":"t28","y":120,"x":1206,"x2":1226,"v":0.21},{"g":"t28","y":98,"x":1216,"x2":1236,"v":0.21},
{"g":"h0","y":343,"x":562,"x2":604,"v":-0.03},{"g":"h0","y":243,"x":712,"x2":754,"v":-0.03},
{"g":"h1","y":343,"x":602,"x2":644,"v":-0.03},{"g":"h1","y":243,"x":752,"x2":794,"v":-0.03},
{"g":"h2","y":343,"x":642,"x2":684,"v":-0.028},{"g":"h2","y":243,"x":792,"x2":834,"v":-0.028},
{"g":"h3","y":343,"x":682,"x2":724,"v":-0.02},{"g":"h3","y":243,"x":832,"x2":874,"v":-0.02},
{"g":"h4","y":343,"x":722,"x2":764,"v":-0.008},{"g":"h4","y":243,"x":872,"x2":914,"v":-0.008},
{"g":"h5","y":343,"x":762,"x2":804,"v":0.005},{"g":"h5","y":243,"x":912,"x2":954,"v":0.005},
{"g":"h6","y":343,"x":802,"x2":844,"v":0.015},{"g":"h6","y":243,"x":952,"x2":994,"v":0.015},
{"g":"h7","y":343,"x":842,"x2":884,"v":0.02},{"g":"h7","y":243,"x":992,"x2":1034,"v":0.02},
{"g":"h8","y":343,"x":882,"x2":924,"v":0.018},{"g":"h8","y":243,"x":1032,"x2":1074,"v":0.018},
{"g":"h9","y":343,"x":922,"x2":964,"v":0.01},{"g":"h9","y":243,"x":1072,"x2":1114,"v":0.01},
{"g":"h10","y":343,"x":962,"x2":1004,"v":0},{"g":"h10","y":243,"x":1112,"x2":1154,"v":0},
{"g":"h11","y":343,"x":1002,"x2":1044,"v":-0.01},{"g":"h11","y":243,"x":1152,"x2":1194,"v":-0.01},
{"g":"h12","y":343,"x":1042,"x2":1084,"v":-0.015},{"g":"h12","y":243,"x":1192,"x2":1234,"v":-0.015},
{"g":"h13","y":343,"x":1082,"x2":1124,"v":-0.018},{"g":"h13","y":243,"x":1232,"x2":1274,"v":-0.018},
{"g":"h14","y":343,"x":1122,"x2":1164,"v":-0.015},{"g":"h14","y":243,"x":1272,"x2":1314,"v":-0.015},
{"g":"h15","y":343,"x":1162,"x2":1204,"v":-0.01},{"g":"h15","y":243,"x":1312,"x2":1354,"v":-0.01},
{"g":"h16","y":343,"x":1202,"x2":1244,"v":-0.005},{"g":"h16","y":243,"x":1352,"x2":1394,"v":-0.005},
{"g":"s0","y":470,"x":566,"x2":580,"v":0.178},{"g":"s0","y":343,"x":712,"x2":726,"v":0.178},
{"g":"s1","y":470,"x":578,"x2":592,"v":0.172},{"g":"s1","y":343,"x":724,"x2":738,"v":0.172},
{"g":"s2","y":470,"x":590,"x2":604,"v":0.161},{"g":"s2","y":343,"x":736,"x2":750,"v":0.161},
{"g":"s3","y":470,"x":602,"x2":616,"v":0.147},{"g":"s3","y":343,"x":748,"x2":762,"v":0.147},
{"g":"s4","y":470,"x":614,"x2":628,"v":0.128},{"g":"s4","y":343,"x":760,"x2":774,"v":0.128},
{"g":"s5","y":470,"x":626,"x2":640,"v":0.107},{"g":"s5","y":343,"x":772,"x2":786,"v":0.107},
{"g":"s6","y":470,"x":638,"x2":652,"v":0.082},{"g":"s6","y":343,"x":784,"x2":798,"v":0.082},
{"g":"s7","y":470,"x":650,"x2":664,"v":0.056},{"g":"s7","y":343,"x":796,"x2":810,"v":0.056},
{"g":"s8","y":470,"x":662,"x2":676,"v":0.028},{"g":"s8","y":343,"x":808,"x2":822,"v":0.028},
{"g":"s9","y":470,"x":674,"x2":688,"v":0},{"g":"s9","y":343,"x":820,"x2":834,"v":0},
{"g":"s10","y":470,"x":686,"x2":700,"v":-0.028},{"g":"s10","y":343,"x":832,"x2":846,"v":-0.028},
{"g":"s11","y":470,"x":698,"x2":712,"v":-0.056},{"g":"s11","y":343,"x":844,"x2":858,"v":-0.056},
{"g":"s12","y":470,"x":710,"x2":724,"v":-0.082},{"g":"s12","y":343,"x":856,"x2":870,"v":-0.082},
{"g":"s13","y":470,"x":722,"x2":736,"v":-0.107},{"g":"s13","y":343,"x":868,"x2":882,"v":-0.107},
{"g":"s14","y":470,"x":734,"x2":748,"v":-0.128},{"g":"s14","y":343,"x":880,"x2":894,"v":-0.128},
{"g":"s15","y":470,"x":746,"x2":760,"v":-0.147},{"g":"s15","y":343,"x":892,"x2":906,"v":-0.147},
{"g":"s16","y":470,"x":758,"x2":772,"v":-0.161},{"g":"s16","y":343,"x":904,"x2":918,"v":-0.161},
{"g":"s17","y":470,"x":770,"x2":784,"v":-0.172},{"g":"s17","y":343,"x":916,"x2":930,"v":-0.172},
{"g":"s18","y":470,"x":782,"x2":796,"v":-0.178},{"g":"s18","y":343,"x":928,"x2":942,"v":-0.178},
{"g":"s19","y":470,"x":794,"x2":808,"v":-0.18},{"g":"s19","y":343,"x":940,"x2":954,"v":-0.18},
{"g":"s20","y":470,"x":806,"x2":820,"v":-0.177},{"g":"s20","y":343,"x":952,"x2":966,"v":-0.177},
{"g":"s21","y":470,"x":818,"x2":832,"v":-0.17},{"g":"s21","y":343,"x":964,"x2":978,"v":-0.17},
{"g":"s22","y":470,"x":830,"x2":844,"v":-0.159},{"g":"s22","y":343,"x":976,"x2":990,"v":-0.159},
{"g":"s23","y":470,"x":842,"x2":856,"v":-0.144},{"g":"s23","y":343,"x":988,"x2":1002,"v":-0.144},
{"g":"s24","y":470,"x":854,"x2":868,"v":-0.125},{"g":"s24","y":343,"x":1000,"x2":1014,"v":-0.125},
{"g":"s25","y":470,"x":866,"x2":880,"v":-0.103},{"g":"s25","y":343,"x":1012,"x2":1026,"v":-0.103},
{"g":"s26","y":470,"x":878,"x2":892,"v":-0.078},{"g":"s26","y":343,"x":1024,"x2":1038,"v":-0.078},
{"g":"s27","y":470,"x":890,"x2":904,"v":-0.051},{"g":"s27","y":343,"x":1036,"x2":1050,"v":-0.051},
{"g":"s28","y":470,"x":902,"x2":916,"v":-0.024},{"g":"s28","y":343,"x":1048,"x2":1062,"v":-0.024},
{"g":"s29","y":470,"x":914,"x2":928,"v":0.005},{"g":"s29","y":343,"x":1060,"x2":1074,"v":0.005},
{"g":"s30","y":470,"x":926,"x2":940,"v":0.033},{"g":"s30","y":343,"x":1072,"x2":1086,"v":0.033},
{"g":"s31","y":470,"x":938,"x2":952,"v":0.061},{"g":"s31","y":343,"x":1084,"x2":1098,"v":0.061},
{"g":"s32","y":470,"x":950,"x2":964,"v":0.086},{"g":"s32","y":343,"x":1096,"x2":1110,"v":0.086},
{"g":"s33","y":470,"x":962,"x2":976,"v":0.11},{"g":"s33","y":343,"x":1108,"x2":1122,"v":0.11},
{"g":"s34","y":470,"x":974,"x2":988,"v":0.131},{"g":"s34","y":343,"x":1120,"x2":1134,"v":0.131},
{"g":"s35","y":470,"x":986,"x2":1000,"v":0.149},{"g":"s35","y":343,"x":1132,"x2":1146,"v":0.149},
{"g":"s36","y":470,"x":998,"x2":1012,"v":0.163},{"g":"s36","y":343,"x":1144,"x2":1158,"v":0.163},
{"g":"s37","y":470,"x":1010,"x2":1024,"v":0.173},{"g":"s37","y":343,"x":1156,"x2":1170,"v":0.173},
{"g":"s38","y":470,"x":1022,"x2":1036,"v":0.179},{"g":"s38","y":343,"x":1168,"x2":1182,"v":0.179},
{"g":"s39","y":470,"x":1034,"x2":1048,"v":0.18},{"g":"s39","y":343,"x":1180,"x2":1194,"v":0.18},
{"g":"s40","y":470,"x":1046,"x2":1060,"v":0.177},{"g":"s40","y":343,"x":1192,"x2":1206,"v":0.177},
{"g":"s41","y":470,"x":1058,"x2":1072,"v":0.169},{"g":"s41","y":343,"x":1204,"x2":1218,"v":0.169},
{"g":"s42","y":470,"x":1070,"x2":1084,"v":0.157},{"g":"s42","y":343,"x":1216,"x2":1230,"v":0.157},
{"g":"s43","y":470,"x":1082,"x2":1096,"v":0.141},{"g":"s43","y":343,"x":1228,"x2":1242,"v":0.141},
{"g":"s44","y":470,"x":1094,"x2":1108,"v":0.121},{"g":"s44","y":343,"x":1240,"x2":1254,"v":0.121},
{"g":"s45","y":470,"x":1106,"x2":1120,"v":0.099},{"g":"s45","y":343,"x":1252,"x2":1266,"v":0.099},
{"g":"s46","y":470,"x":1118,"x2":1132,"v":0.074},{"g":"s46","y":343,"x":1264,"x2":1278,"v":0.074},
{"g":"s47","y":470,"x":1130,"x2":1144,"v":0.047},{"g":"s47","y":343,"x":1276,"x2":1290,"v":0.047},
{"g":"s48","y":470,"x":1142,"x2":1156,"v":0.019},{"g":"s48","y":343,"x":1288,"x2":1302,"v":0.019},
{"g":"s49","y":470,"x":1154,"x2":1168,"v":-0.009},{"g":"s49","y":343,"x":1300,"x2":1314,"v":-0.009},
{"g":"s50","y":470,"x":1166,"x2":1180,"v":-0.038},{"g":"s50","y":343,"x":1312,"x2":1326,"v":-0.038},
{"g":"s51","y":470,"x":1178,"x2":1192,"v":-0.065},{"g":"s51","y":343,"x":1324,"x2":1338,"v":-0.065},
{"g":"s52","y":470,"x":1190,"x2":1204,"v":-0.091},{"g":"s52","y":343,"x":1336,"x2":1350,"v":-0.091},
{"g":"s53","y":470,"x":1202,"x2":1216,"v":-0.114},{"g":"s53","y":343,"x":1348,"x2":1362,"v":-0.114},
{"g":"s54","y":470,"x":1214,"x2":1228,"v":-0.135},{"g":"s54","y":343,"x":1360,"x2":1374,"v":-0.135}
],
"ar":[
{"x":16,"y":113,"a":32.8,"l":74},{"x":63,"y":113,"a":32.8,"l":74},{"x":110,"y":113,"a":32.8,"l":74},{"x":156,"y":113,"a":32.8,"l":74},{"x":203,"y":113,"a":32.8,"l":74},{"x":250,"y":113,"a":32.8,"l":74},{"x":296,"y":113,"a":32.8,"l":74},{"x":343,"y":113,"a":32.8,"l":74},{"x":390,"y":113,"a":32.8,"l":74},{"x":436,"y":113,"a":32.8,"l":74},{"x":483,"y":113,"a":32.8,"l":74},{"x":530,"y":113,"a":32.8,"l":74},
{"x":16,"y":210,"a":25.5,"l":74},{"x":63,"y":210,"a":25.5,"l":74},{"x":110,"y":210,"a":25.5,"l":74},{"x":156,"y":210,"a":25.5,"l":74},{"x":203,"y":210,"a":25.5,"l":74},{"x":250,"y":210,"a":25.5,"l":74},{"x":296,"y":210,"a":25.5,"l":74},{"x":343,"y":210,"a":25.5,"l":74},{"x":390,"y":210,"a":25.5,"l":74},{"x":436,"y":210,"a":25.5,"l":74},{"x":483,"y":210,"a":25.5,"l":74},{"x":530,"y":210,"a":25.5,"l":74},
{"x":63,"y":307,"a":98.3,"l":76},{"x":110,"y":307,"a":98.3,"l":76},{"x":156,"y":307,"a":98.3,"l":76},{"x":203,"y":307,"a":98.3,"l":76},{"x":249,"y":307,"a":98.3,"l":76},{"x":296,"y":307,"a":98.3,"l":76},{"x":343,"y":307,"a":98.3,"l":76},{"x":389,"y":307,"a":98.3,"l":76},{"x":436,"y":307,"a":98.3,"l":76},{"x":482,"y":307,"a":98.3,"l":76},{"x":529,"y":307,"a":98.3,"l":76},
{"x":16,"y":405,"a":53,"l":71},{"x":63,"y":405,"a":53,"l":71},{"x":110,"y":405,"a":53,"l":71},{"x":156,"y":405,"a":53,"l":71},{"x":203,"y":405,"a":53,"l":71},{"x":250,"y":405,"a":53,"l":71},{"x":296,"y":405,"a":53,"l":71},{"x":343,"y":405,"a":53,"l":71},{"x":390,"y":405,"a":53,"l":71},{"x":436,"y":405,"a":53,"l":71},{"x":483,"y":405,"a":53,"l":71},{"x":530,"y":405,"a":53,"l":71},
{"x":720,"y":113,"a":32.7,"l":83},{"x":763,"y":113,"a":32.7,"l":83},{"x":807,"y":113,"a":32.7,"l":83},{"x":850,"y":113,"a":32.7,"l":83},{"x":893,"y":113,"a":32.7,"l":83},{"x":937,"y":113,"a":32.7,"l":83},{"x":980,"y":113,"a":32.7,"l":83},{"x":1023,"y":113,"a":32.7,"l":83},{"x":1066,"y":113,"a":32.7,"l":83},{"x":1110,"y":113,"a":32.7,"l":83},{"x":1153,"y":113,"a":32.7,"l":83},{"x":1196,"y":113,"a":32.7,"l":83},
{"x":720,"y":203,"a":21,"l":84},{"x":763,"y":203,"a":21,"l":84},{"x":807,"y":203,"a":21,"l":84},{"x":850,"y":203,"a":21,"l":84},{"x":893,"y":203,"a":21,"l":84},{"x":937,"y":203,"a":21,"l":84},{"x":980,"y":203,"a":21,"l":84},{"x":1023,"y":203,"a":21,"l":84},{"x":1066,"y":203,"a":21,"l":84},{"x":1110,"y":203,"a":21,"l":84},{"x":1153,"y":203,"a":21,"l":84},{"x":1196,"y":203,"a":21,"l":84},
{"x":720,"y":295,"a":86.6,"l":83},{"x":763,"y":295,"a":86.6,"l":83},{"x":807,"y":295,"a":86.6,"l":83},{"x":850,"y":295,"a":86.6,"l":83},{"x":893,"y":295,"a":86.6,"l":83},{"x":937,"y":295,"a":86.6,"l":83},{"x":980,"y":295,"a":86.6,"l":83},{"x":1023,"y":295,"a":86.6,"l":83},{"x":1066,"y":295,"a":86.6,"l":83},{"x":1110,"y":295,"a":86.6,"l":83},{"x":1153,"y":295,"a":86.6,"l":83},{"x":1196,"y":295,"a":86.6,"l":83},
{"x":720,"y":385,"a":54.4,"l":82},{"x":763,"y":385,"a":54.4,"l":82},{"x":807,"y":385,"a":54.4,"l":82},{"x":850,"y":385,"a":54.4,"l":82},{"x":893,"y":385,"a":54.4,"l":82},{"x":937,"y":385,"a":54.4,"l":82},{"x":980,"y":385,"a":54.4,"l":82},{"x":1023,"y":385,"a":54.4,"l":82},{"x":1066,"y":385,"a":54.4,"l":82},{"x":1110,"y":385,"a":54.4,"l":82},{"x":1153,"y":385,"a":54.4,"l":82},{"x":1196,"y":385,"a":54.4,"l":82}
],
"mk":[{"x":0,"x2":36,"y":94,"y2":470},{"x":545,"x2":712,"y":94,"y2":470}],
"dl":[{"x":36,"x2":545,"y":254,"y2":254},{"x":36,"x2":545,"y":361,"y2":361},{"x":37.5,"x2":37.5,"y":254,"y2":361},{"x":543.5,"x2":543.5,"y":254,"y2":361},{"x":712,"x2":1221,"y":243,"y2":243},{"x":712,"x2":1221,"y":343,"y2":343},{"x":713.5,"x2":713.5,"y":243,"y2":343}],
"tt":[{"t":"Amorphous","x":250,"y":88,"a":"center"},{"t":"Crystalline","x":998,"y":88,"a":"center"}],
"cb":[{"t":"-1","x":378,"y":33},{"t":"0","x":587,"y":33},{"t":"1 [a.u.]","x":773,"y":33}],
"lt":[{"t":"A","x":21,"y":104},{"t":"B","x":694,"y":104}],
"rg":[{"t":"Air","x":612,"y":201},{"t":"HMM","x":615,"y":302},{"t":"Substrate","x":626,"y":402}]
},
"encoding":{
"x":{"field":"x","type":"quantitative","scale":{"domain":[0,1221],"range":[0,1221],"nice":false,"zero":false},"axis":null},
"y":{"field":"y","type":"quantitative","scale":{"domain":[0,470],"range":[0,470],"nice":false,"zero":false},"axis":null}
},
"layer":[
{"data":{"name":"sa"},"mark":{"type":"area","orient":"horizontal","opacity":1,"strokeWidth":0},
"encoding":{"x2":{"field":"x2"},"detail":{"field":"g"},
"color":{"field":"v","type":"quantitative","scale":{"type":"linear","domain":[-1,-0.35,0,0.35,1],"range":["#00007f","#0000ff","#d4d4d8","#ff0000","#7f0000"],"interpolate":"rgb"},
"legend":{"type":"gradient","orient":"none","legendX":370,"legendY":48,"direction":"horizontal","gradientLength":506,"gradientThickness":15,"gradientStrokeColor":"#666","gradientStrokeWidth":0.5,"title":null,"values":[-1,0,1],"labelExpr":"''","labelOpacity":0}}}},
{"data":{"name":"sb"},"mark":{"type":"area","orient":"horizontal","opacity":1,"strokeWidth":0},
"encoding":{"x2":{"field":"x2"},"detail":{"field":"g"},
"color":{"field":"v","type":"quantitative","scale":{"type":"linear","domain":[-1,-0.35,0,0.35,1],"range":["#00007f","#0000ff","#d4d4d8","#ff0000","#7f0000"],"interpolate":"rgb"}}}},
{"data":{"name":"ar"},"mark":{"type":"point","shape":"M0,-0.075L1.5,-0.075L1.5,-0.26L2,0L1.5,0.26L1.5,0.075L0,0.075Z","filled":true,"fill":"#ffff00","color":"#ffff00","opacity":1,"strokeWidth":0},
"encoding":{"angle":{"field":"a","type":"quantitative","scale":null},"size":{"field":"l","type":"quantitative","scale":{"type":"pow","exponent":2,"domain":[0,100],"range":[0,10000]},"legend":null}}},
{"data":{"name":"mk"},"mark":{"type":"rect","fill":"white","strokeWidth":0},"encoding":{"x2":{"field":"x2"},"y2":{"field":"y2"}}},
{"data":{"name":"dl"},"mark":{"type":"rule","color":"#3a3a3a","strokeWidth":3},"encoding":{"x2":{"field":"x2"},"y2":{"field":"y2"}}},
{"data":{"name":"dl"},"mark":{"type":"rule","color":"#ffffff","strokeWidth":3,"strokeDash":[9,5]},"encoding":{"x2":{"field":"x2"},"y2":{"field":"y2"}}},
{"data":{"name":"tt"},"mark":{"type":"text","font":"Open Sans","fontSize":25,"align":"center","baseline":"alphabetic","color":"#111111"},"encoding":{"text":{"field":"t"}}},
{"data":{"name":"cb"},"mark":{"type":"text","font":"Open Sans","fontSize":24,"align":"left","baseline":"alphabetic","color":"#111111"},"encoding":{"text":{"field":"t"}}},
{"data":{"name":"lt"},"mark":{"type":"text","font":"Liberation Serif","fontSize":28,"align":"center","baseline":"alphabetic","color":"#111111"},"encoding":{"text":{"field":"t"}}},
{"data":{"name":"rg"},"mark":{"type":"text","font":"Open Sans","fontSize":28,"fontWeight":"bold","align":"center","baseline":"alphabetic","color":"#12285a"},"encoding":{"text":{"field":"t"}}}
]
}
